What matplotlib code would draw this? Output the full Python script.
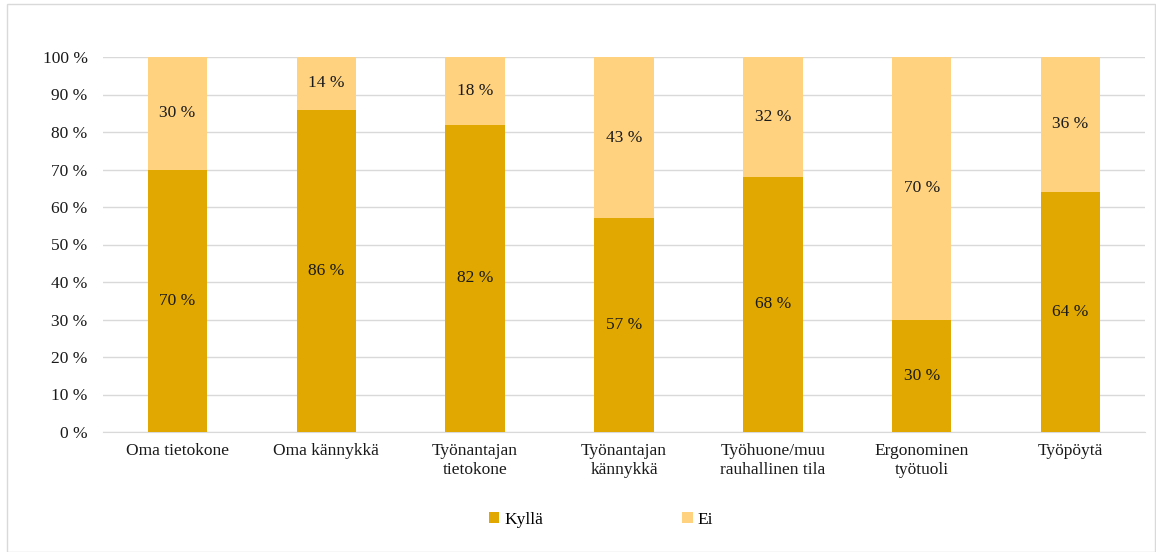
import matplotlib
matplotlib.use("Agg")
import matplotlib.pyplot as plt
from matplotlib.patches import Rectangle
import numpy as np

categories = ["Oma tietokone", "Oma kännykkä", "Työnantajan\ntietokone", "Työnantajan\nkännykkä",
              "Työhuone/muu\nrauhallinen tila", "Ergonominen\ntyötuoli", "Työpöytä"]
kylla = [70, 86, 82, 57, 68, 30, 64]
ei = [30, 14, 18, 43, 32, 70, 36]
yticks = [0, 10, 20, 30, 40, 50, 60, 70, 80, 90, 100]

c_kylla = "#E0A800"
c_ei = "#FFD280"
fs = 12.5

plt.rcParams['font.family'] = ['Liberation Serif', 'DejaVu Serif']
fig = plt.figure(figsize=(11.56, 5.52), dpi=100)
fig.patches.append(Rectangle((7/1156, 0), 1 - 8/1156, 1 - 4/552, transform=fig.transFigure,
                             fill=False, edgecolor="#D9D9D9", linewidth=1))
ax = fig.add_axes([103/1156, 1 - 432/552, 1042/1156, 375/552])

x = np.arange(len(categories))
w = 0.4
ax.bar(x, kylla, w, color=c_kylla, label="Kyllä", zorder=3)
ax.bar(x, ei, w, bottom=kylla, color=c_ei, label="Ei", zorder=3)

for i in range(len(categories)):
    ax.text(x[i], kylla[i] / 2, f"{kylla[i]} %", ha="center", va="center", fontsize=fs, color="#1a1a1a", zorder=4)
    ax.text(x[i], kylla[i] + ei[i] / 2, f"{ei[i]} %", ha="center", va="center", fontsize=fs, color="#1a1a1a", zorder=4)

ax.set_xlim(-0.5, len(categories) - 0.5)
ax.set_ylim(0, 100)
ax.set_yticks(yticks)
ax.set_yticklabels([f"{t} %" for t in yticks], fontsize=fs, color="#1a1a1a")
ax.set_xticks(x)
ax.set_xticklabels(categories, fontsize=fs, color="#1a1a1a", linespacing=1.25)
ax.tick_params(axis="both", length=0)
ax.tick_params(axis="y", pad=11)
ax.tick_params(axis="x", pad=8)
ax.grid(axis="y", color="#D9D9D9", linewidth=1, zorder=0)
for s in ["top", "right", "left"]:
    ax.spines[s].set_visible(False)
ax.spines["bottom"].set_color("#D9D9D9")

leg = fig.legend(loc="center", bbox_to_anchor=(0.52, 1 - 520/552), ncol=2, frameon=False,
                 fontsize=fs, handlelength=0.6, handleheight=0.6, handletextpad=0.3,
                 columnspacing=8)
fig.savefig("out.png", dpi=100)
